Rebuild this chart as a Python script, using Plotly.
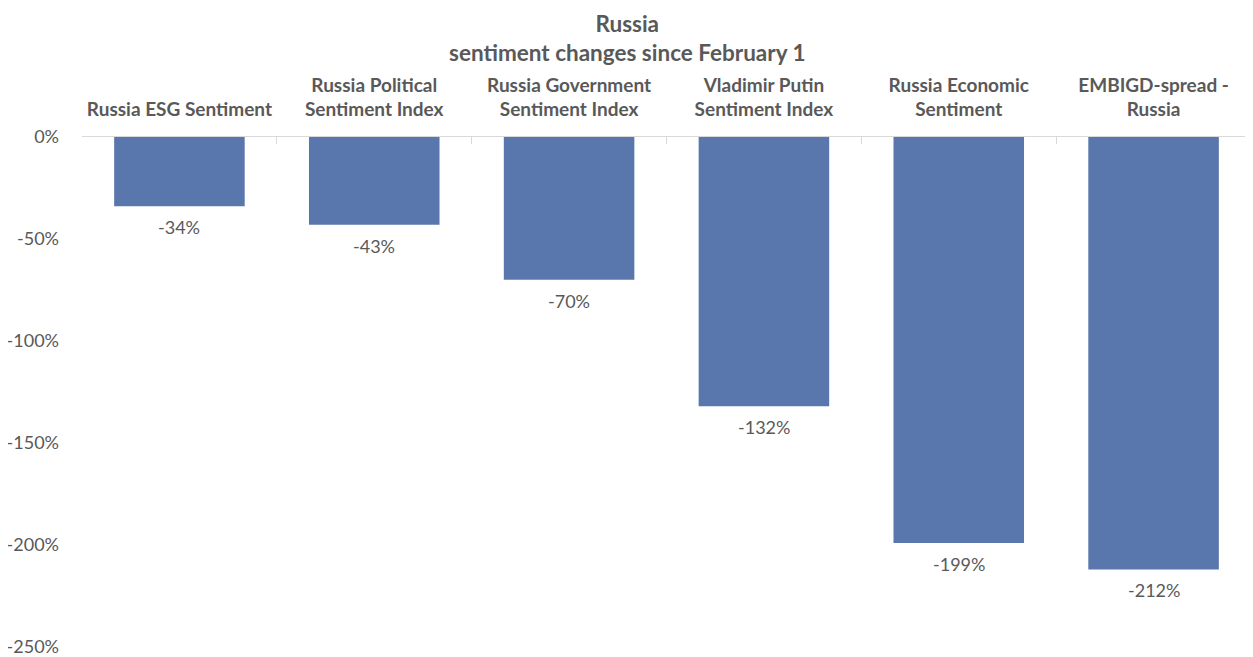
import plotly.graph_objects as go

categories = [
    "Russia ESG Sentiment",
    "Russia Political<br>Sentiment Index",
    "Russia Government<br>Sentiment Index",
    "Vladimir Putin<br>Sentiment Index",
    "Russia Economic<br>Sentiment",
    "EMBIGD-spread -<br>Russia",
]
values = [-34, -43, -70, -132, -199, -212]
y_ticks = [0, -50, -100, -150, -200, -250]
y_tick_labels = ["0%", "-50%", "-100%", "-150%", "-200%", "-250%"]
title_lines = ["Russia", "sentiment changes since February 1"]

GRAY = "#595959"
FONT = "Lato"

fig = go.Figure(go.Bar(
    x=categories,
    y=values,
    marker=dict(color="#5a77ad", line=dict(width=0)),
    width=0.67,
))

# data labels under each bar
for c, v in zip(categories, values):
    fig.add_annotation(
        x=c, y=v, text=f"{v}%", showarrow=False,
        xanchor="center", yanchor="top", yshift=-8,
        font=dict(family=FONT, size=18, color=GRAY),
    )

# two-line title as one text block
fig.add_annotation(
    xref="paper", yref="paper", x=0.466, y=1.195,
    xanchor="center", yanchor="middle", showarrow=False,
    text="<b>" + "<br>".join(title_lines) + "</b>", borderpad=0,
    font=dict(family=FONT, size=22.5, color=GRAY),
)

fig.update_layout(
    width=1245, height=665,
    paper_bgcolor="white", plot_bgcolor="white",
    margin=dict(l=74, r=2, t=129, b=26),
    showlegend=False,
    font=dict(family=FONT, color=GRAY),
)

fig.update_xaxes(
    side="top",
    showline=True, linecolor="#d9d9d9", linewidth=1,
    ticks="inside", tickson="boundaries", ticklen=7, tickcolor="#d9d9d9",
    tickfont=dict(family=FONT, size=19, color=GRAY, weight="bold"),
    ticklabelstandoff=12,
    showgrid=False, zeroline=False, automargin=False,
)

fig.update_yaxes(
    range=[-250.02, 0.0],
    tickvals=y_ticks, ticktext=y_tick_labels,
    tickfont=dict(family=FONT, size=18, color=GRAY),
    showgrid=False, zeroline=False, showline=False,
    ticks="", ticklabelstandoff=22, automargin=False,
    ticklabeloverflow="allow",
)

fig.write_html("out.html")
